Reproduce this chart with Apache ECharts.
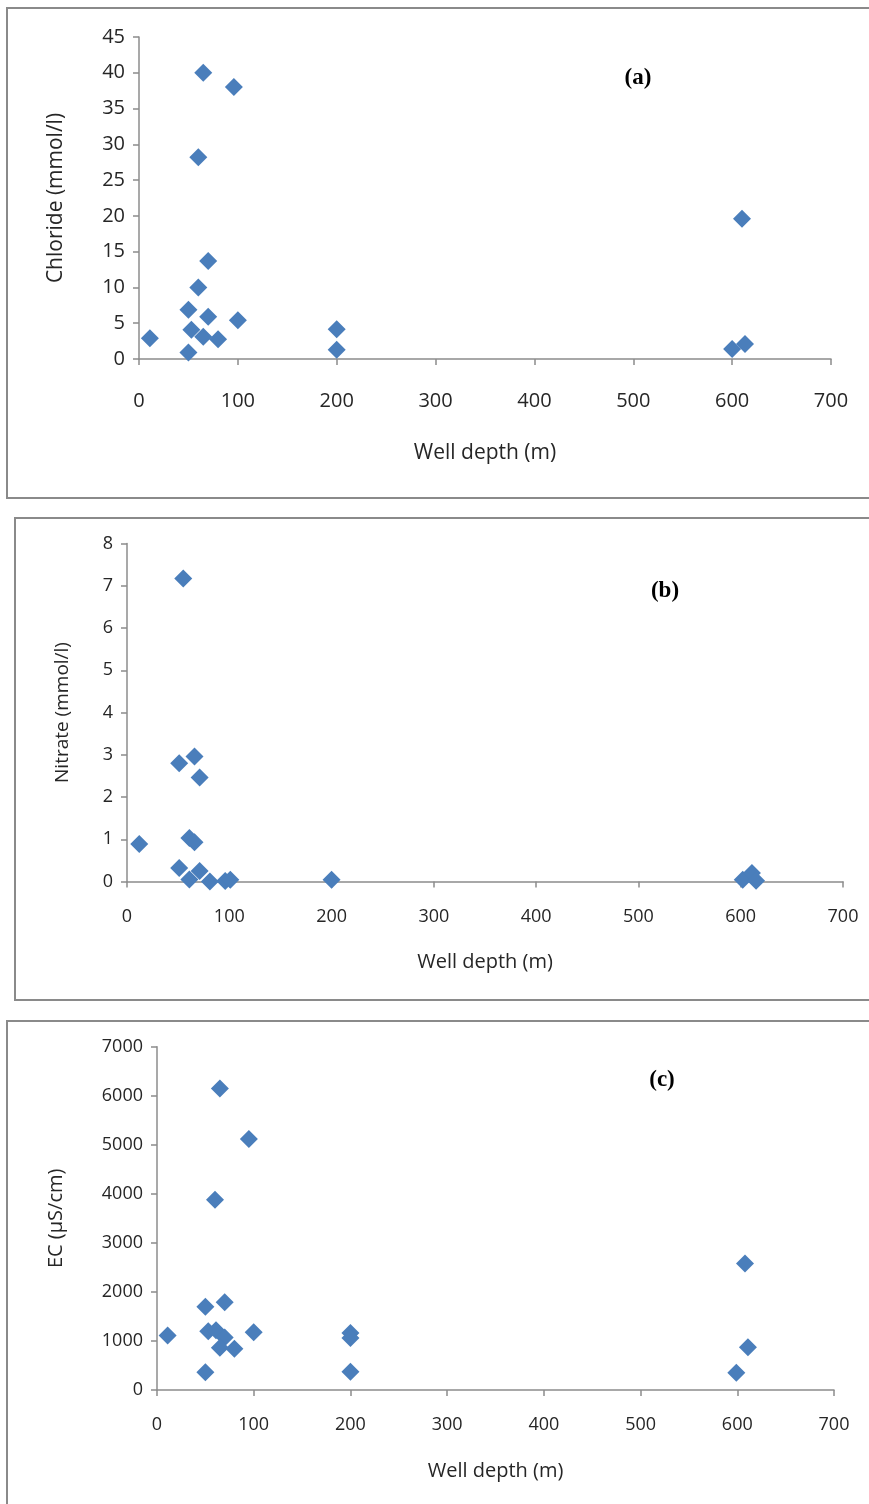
<!DOCTYPE html>
<html>
<head>
<meta charset="utf-8">
<script src="https://cdn.jsdelivr.net/npm/echarts@6/dist/echarts.min.js"></script>
<style>
html,body{margin:0;padding:0;background:#fff;}
#chart{width:869px;height:1504px;}
</style>
</head>
<body>
<div id="chart"></div>
<script>
// Panel (a): Chloride vs well depth
var depthA = [65, 96, 60, 70, 60, 50, 70, 100, 53, 65, 80, 11, 50, 200, 200, 610, 600, 613];
var chlorideA = [40, 38, 28.2, 13.7, 10, 6.9, 5.9, 5.4, 4.1, 3.1, 2.75, 2.9, 0.9, 4.15, 1.3, 19.6, 1.4, 2.1];
// Panel (b): Nitrate vs well depth
var depthB = [55, 51, 66, 71, 12, 61, 66, 51, 71, 61, 81, 96, 101, 200, 602, 611, 615];
var nitrateB = [7.17, 2.8, 2.96, 2.46, 0.89, 1.03, 0.93, 0.32, 0.25, 0.05, 0, 0.01, 0.04, 0.04, 0.04, 0.2, 0.02];
// Panel (c): EC vs well depth
var depthC = [65, 95, 60, 70, 50, 11, 100, 53, 61, 70, 65, 80, 50, 200, 200, 200, 608, 611, 599];
var ecC = [6150, 5120, 3880, 1790, 1700, 1110, 1175, 1200, 1220, 1070, 860, 840, 360, 1160, 1060, 370, 2580, 870, 350];

var xTitle = 'Well depth (m)';
var yTitles = ['Chloride (mmol/l)', 'Nitrate (mmol/l)', 'EC (\u00b5S/cm)'];
var panelLabels = ['(a)', '(b)', '(c)'];

function pairs(xs, ys){ return xs.map(function(x,i){ return [x, ys[i]]; }); }

var axisColor = '#8c8c8c';
var textColor = '#262626';
var font = '"Open Sans", sans-serif';

function plain(v){ return String(v); }

function xAxis(idx, nameGap, margin, fs, nfs){
  return {
    type:'value', gridIndex:idx, min:0, max:700, interval:100,
    name:xTitle, nameLocation:'middle', nameGap:nameGap,
    nameTextStyle:{fontFamily:font, fontSize:nfs, color:textColor},
    axisLine:{show:true, onZero:false, lineStyle:{color:axisColor, width:1.5}},
    axisTick:{show:true, inside:false, length:6, lineStyle:{color:axisColor, width:1.5}},
    axisLabel:{fontFamily:font, fontSize:fs, color:textColor, margin:margin, formatter:plain},
    splitLine:{show:false}
  };
}
function yAxis(idx, max, interval, name, nameGap, fs, nfs){
  return {
    type:'value', gridIndex:idx, min:0, max:max, interval:interval,
    name:name, nameLocation:'middle', nameGap:nameGap, nameRotate:90,
    nameTextStyle:{fontFamily:font, fontSize:nfs, color:textColor},
    axisLine:{show:true, onZero:false, lineStyle:{color:axisColor, width:1.5}},
    axisTick:{show:true, inside:false, length:6, lineStyle:{color:axisColor, width:1.5}},
    axisLabel:{fontFamily:font, fontSize:fs, color:textColor, margin:14, formatter:plain},
    splitLine:{show:false}
  };
}
function series(idx, data){
  return {
    type:'scatter', xAxisIndex:idx, yAxisIndex:idx, data:data,
    symbol:'diamond', symbolSize:18,
    itemStyle:{color:'#4a7ebb', opacity:1},
    silent:true
  };
}

var chart = echarts.init(document.getElementById('chart'), null, {renderer:'canvas'});
chart.setOption({
  animation:false,
  backgroundColor:'#ffffff',
  grid:[
    {left:139, top:37, width:692, height:322},
    {left:127, top:543.5, width:716, height:338},
    {left:157, top:1046.7, width:677, height:343.3}
  ],
  xAxis:[xAxis(0, 84, 32, 20, 21), xAxis(1, 71, 26, 18, 20), xAxis(2, 71, 26, 18, 20)],
  yAxis:[
    yAxis(0, 45, 5, yTitles[0], 72, 20, 21),
    yAxis(1, 8, 1, yTitles[1], 55, 18, 19),
    yAxis(2, 7000, 1000, yTitles[2], 91, 18, 20)
  ],
  series:[
    series(0, pairs(depthA, chlorideA)),
    series(1, pairs(depthB, nitrateB)),
    series(2, pairs(depthC, ecC))
  ],
  graphic:[
    {type:'rect', shape:{x:7, y:8, width:880, height:490}, style:{fill:null, stroke:'#8a8a8a', lineWidth:2}, silent:true},
    {type:'rect', shape:{x:15, y:518, width:880, height:482}, style:{fill:null, stroke:'#8a8a8a', lineWidth:2}, silent:true},
    {type:'rect', shape:{x:7, y:1021, width:880, height:500}, style:{fill:null, stroke:'#8a8a8a', lineWidth:2}, silent:true},
    {type:'text', x:638, y:78, style:{text:panelLabels[0], font:'bold 23px "Liberation Serif", serif', fill:'#000', textAlign:'center', textVerticalAlign:'middle'}},
    {type:'text', x:665, y:591, style:{text:panelLabels[1], font:'bold 23px "Liberation Serif", serif', fill:'#000', textAlign:'center', textVerticalAlign:'middle'}},
    {type:'text', x:662, y:1080, style:{text:panelLabels[2], font:'bold 23px "Liberation Serif", serif', fill:'#000', textAlign:'center', textVerticalAlign:'middle'}}
  ]
});
</script>
</body>
</html>
